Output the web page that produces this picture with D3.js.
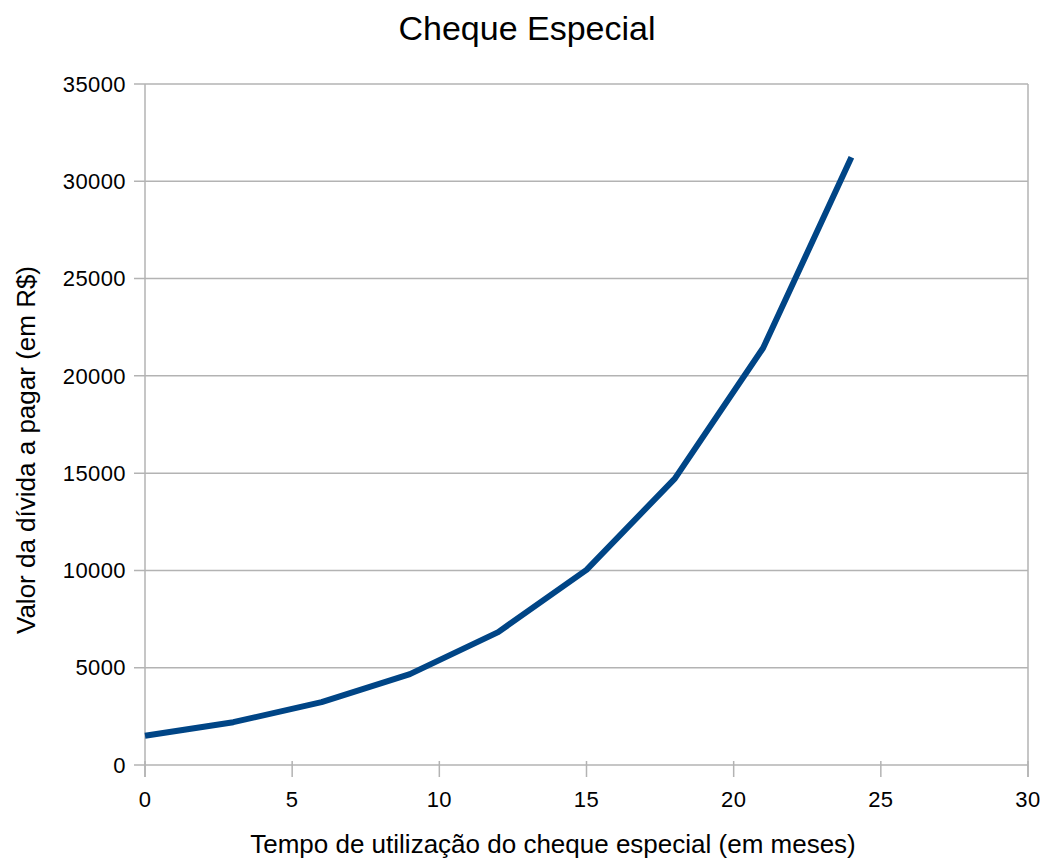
<!DOCTYPE html>
<html><head><meta charset="utf-8">
<script src="https://cdn.jsdelivr.net/npm/d3@7"></script>
<style>body{margin:0;background:#fff;} text{font-family:"Liberation Sans",Arial,sans-serif;fill:#000;}</style>
</head><body>
<svg id="chart" width="1043" height="861"></svg>
<script>
const months = [0, 3, 6, 9, 12, 15, 18, 21, 24];
const debt = [1500, 2200, 3230, 4670, 6830, 10030, 14720, 21430, 31230];
const xTicks = [0, 5, 10, 15, 20, 25, 30];
const yTicks = [0, 5000, 10000, 15000, 20000, 25000, 30000, 35000];
const title = "Cheque Especial";
const xTitle = "Tempo de utilização do cheque especial (em meses)";
const yTitle = "Valor da dívida a pagar (em R$)";

const svg = d3.select("#chart");
const m = {left: 145, right: 1028, top: 84, bottom: 765};
const x = d3.scaleLinear().domain([0, 30]).range([m.left, m.right]);
const y = d3.scaleLinear().domain([0, 35000]).range([m.bottom, m.top]);
const grid = "#b3b3b3";

// horizontal gridlines
svg.append("g").selectAll("line").data(yTicks).join("line")
  .attr("x1", m.left - 11).attr("x2", m.right)
  .attr("y1", d => y(d)).attr("y2", d => y(d))
  .attr("stroke", grid).attr("stroke-width", 1.5);
// right border
svg.append("line").attr("x1", m.right).attr("x2", m.right).attr("y1", m.top).attr("y2", m.bottom + 12)
  .attr("stroke", grid).attr("stroke-width", 1.5);
// left axis
svg.append("line").attr("x1", m.left).attr("x2", m.left).attr("y1", m.top).attr("y2", m.bottom + 12)
  .attr("stroke", grid).attr("stroke-width", 1.5);
// x ticks
svg.append("g").selectAll("line").data(xTicks).join("line")
  .attr("x1", d => x(d)).attr("x2", d => x(d))
  .attr("y1", m.bottom - 4).attr("y2", m.bottom + 12)
  .attr("stroke", grid).attr("stroke-width", 1.5);

// tick labels
svg.append("g").selectAll("text").data(yTicks).join("text")
  .attr("x", m.left - 19).attr("y", d => y(d)).attr("dy", "0.35em")
  .attr("text-anchor", "end").style("font-size", "22px").style("letter-spacing", "0.4px")
  .text(d => d);
svg.append("g").selectAll("text").data(xTicks).join("text")
  .attr("x", d => x(d)).attr("y", m.bottom + 42)
  .attr("text-anchor", "middle").style("font-size", "22px").style("letter-spacing", "0.4px")
  .text(d => d);

// line
const line = d3.line().x((d, i) => x(months[i])).y(d => y(d));
svg.append("path").datum(debt).attr("d", line)
  .attr("fill", "none").attr("stroke", "#004586").attr("stroke-width", 6)
  .attr("stroke-linejoin", "round");

// titles
svg.append("text").attr("x", 527).attr("y", 40).attr("text-anchor", "middle")
  .style("font-size", "34px").text(title);
svg.append("text").attr("x", 553).attr("y", 853).attr("text-anchor", "middle")
  .style("font-size", "26px").text(xTitle);
svg.append("text").attr("transform", "translate(35,450) rotate(-90)").attr("text-anchor", "middle")
  .style("font-size", "26px").text(yTitle);
</script>
</body></html>
